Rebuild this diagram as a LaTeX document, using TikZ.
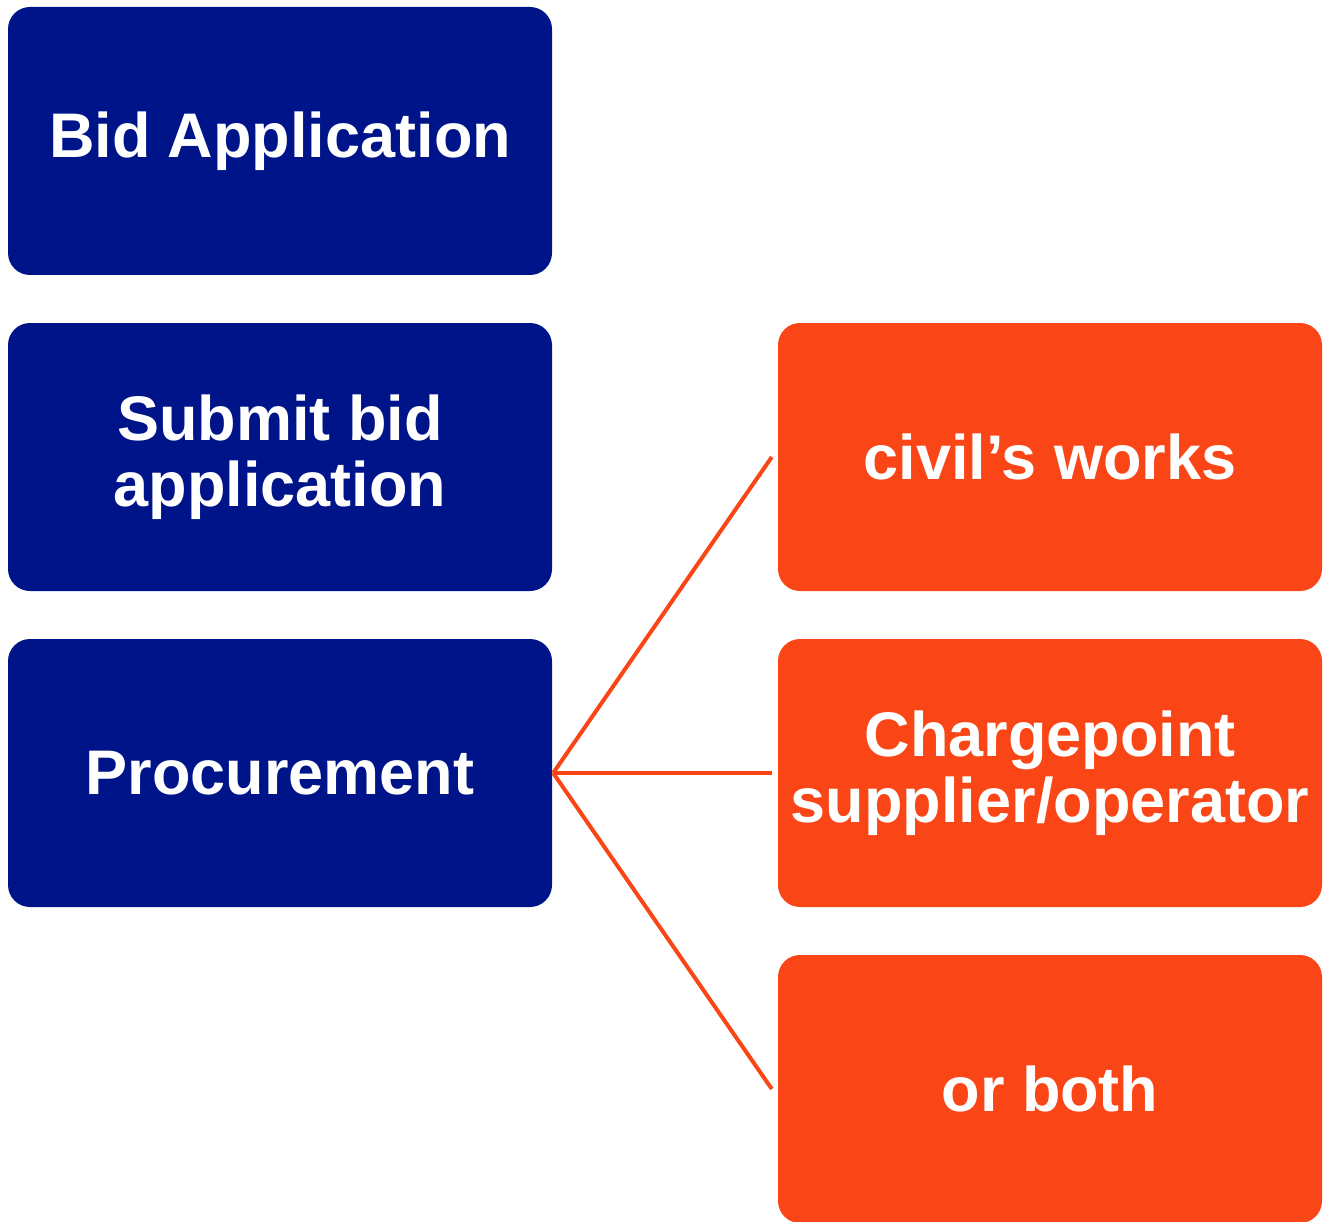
\documentclass[tikz,border=0pt]{standalone}
\usepackage{fontspec}
\setmainfont{Liberation Sans}
\definecolor{bidblue}{RGB}{0,20,137}
\definecolor{bidorange}{RGB}{250,70,22}
\tikzset{
    box/.style={rounded corners=22pt, minimum width=544pt, minimum height=268pt,
        inner sep=0pt, align=center, text=white,
        font=\fontsize{63}{66}\selectfont\bfseries},
    stage/.style={box, fill=bidblue},
    option/.style={box, fill=bidorange},
    link/.style={draw=bidorange, line width=4pt}
}
\begin{document}
\begin{tikzpicture}[x=1pt,y=-1pt]
\useasboundingbox (0,0) rectangle (1337,1222);
% left column
\node[stage] (bid)  at (280,141) {Bid Application};
\node[stage] (submit) at (280,457) {Submit bid\\application};
\node[stage] (proc) at (280,773) {Procurement};
% right column
\node[option] (civil) at (1050,457) {civil’s works};
\node[option] (charge) at (1050,773) {Chargepoint\\supplier/operator};
\node[option] (both) at (1050,1089) {or both};
% links
\foreach \n in {civil,charge,both} {
    \draw[link] ([xshift=1pt]proc.east) -- ([xshift=-6pt]\n.west);
}
\end{tikzpicture}
\end{document}
